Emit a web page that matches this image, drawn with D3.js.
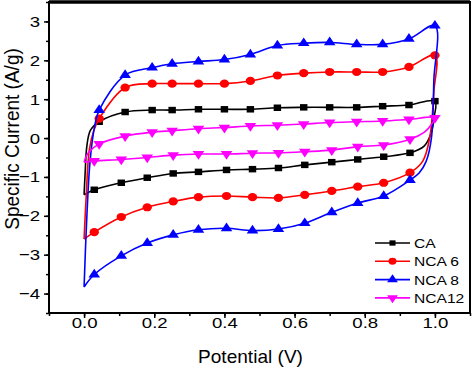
<!DOCTYPE html>
<html lang="en">
<head>
    <meta charset="UTF-8">
    <title>Specific Current vs Potential</title>
    <script src="https://d3js.org/d3.v7.min.js"></script>
    <style>
        body { margin: 0; background: #fff; }
        text { font-family: "Liberation Sans", Arial, sans-serif; fill: #000; }
    </style>
</head>
<body>
<svg id="chart" width="474" height="369"></svg>

<script>
    // potentials where the markers sit (anodic scan, then cathodic scan)
    const potUp = [0.043, 0.117, 0.194, 0.251, 0.326, 0.40, 0.474, 0.551, 0.626, 0.70, 0.777, 0.851, 0.926, 1.0];
    const potDown = [0.929, 0.854, 0.78, 0.706, 0.629, 0.554, 0.48, 0.406, 0.326, 0.254, 0.18, 0.106, 0.029];

    // specific current (A/g) at those potentials
    const caUp = [0.42, 0.67, 0.72, 0.72, 0.74, 0.74, 0.74, 0.78, 0.79, 0.79, 0.79, 0.82, 0.85, 0.95];
    const caDown = [-0.38, -0.48, -0.55, -0.62, -0.69, -0.77, -0.80, -0.82, -0.87, -0.91, -1.02, -1.15, -1.33];
    const nca6Up = [0.50, 1.30, 1.40, 1.40, 1.40, 1.40, 1.47, 1.61, 1.67, 1.70, 1.70, 1.70, 1.83, 2.13];
    const nca6Down = [-0.89, -1.15, -1.25, -1.36, -1.46, -1.54, -1.52, -1.49, -1.52, -1.63, -1.78, -2.03, -2.42];
    const nca8Up = [0.72, 1.62, 1.81, 1.91, 1.97, 2.02, 2.15, 2.38, 2.44, 2.46, 2.41, 2.41, 2.55, 2.89];
    const nca8Down = [-1.08, -1.49, -1.67, -1.91, -2.19, -2.34, -2.38, -2.32, -2.36, -2.49, -2.70, -3.03, -3.51];
    const nca12Up = [-0.15, 0.05, 0.15, 0.19, 0.24, 0.27, 0.31, 0.33, 0.36, 0.40, 0.42, 0.44, 0.48, 0.52];
    const nca12Down = [-0.03, -0.18, -0.22, -0.31, -0.35, -0.38, -0.39, -0.41, -0.41, -0.44, -0.50, -0.55, -0.59];

    // extra trace points without markers: switching edges at 0 V and 1 V
    const caStart = [[0, -1.46], [0.003, -0.9], [0.008, -0.2], [0.018, 0.2]];
    const caTurn = [[0.998, 0.55], [0.99, 0.15], [0.97, -0.2]];
    const nca6Start = [[0, -2.60], [0.006, -1.5], [0.015, -0.3], [0.028, 0.2]];
    const nca6Turn = [[0.997, 1.2], [0.985, 0.0], [0.965, -0.6]];
    const nca8Start = [[0, -3.83], [0.007, -2.2], [0.017, -0.6], [0.03, 0.3]];
    const nca8Turn = [[0.997, 1.5], [0.99, 0.0], [0.975, -0.6], [0.955, -0.9]];
    const nca12Start = [[0, -0.62], [0.012, -0.38]];
    const nca12Turn = [[0.99, 0.35], [0.97, 0.15]];

    const names = ["CA", "NCA 6", "NCA 8", "NCA12"];
    const colors = ["#000000", "#ff0000", "#0000ff", "#ff00ff"];

    const xTicks = [0.0, 0.2, 0.4, 0.6, 0.8, 1.0];
    const yTicks = [-4, -3, -2, -1, 0, 1, 2, 3];

    const series = [
        { up: caUp, down: caDown, start: caStart, turn: caTurn, shape: "square" },
        { up: nca6Up, down: nca6Down, start: nca6Start, turn: nca6Turn, shape: "circle" },
        { up: nca8Up, down: nca8Down, start: nca8Start, turn: nca8Turn, shape: "up" },
        { up: nca12Up, down: nca12Down, start: nca12Start, turn: nca12Turn, shape: "down" }
    ].map((s, i) => {
        const marks = potUp.map((p, j) => [p, s.up[j]]).concat(potDown.map((p, j) => [p, s.down[j]]));
        const trace = s.start.concat(potUp.map((p, j) => [p, s.up[j]]), s.turn,
            potDown.map((p, j) => [p, s.down[j]]), [s.start[0]]);
        return { name: names[i], color: colors[i], shape: s.shape, marks, trace };
    });

    const svg = d3.select("#chart");
    const margin = { top: 2, right: 4, bottom: 56, left: 49 };
    const width = +svg.attr("width");
    const height = +svg.attr("height");

    const x = d3.scaleLinear().domain([-0.1, 1.1]).range([margin.left, width - margin.right]);
    const y = d3.scaleLinear().domain([-4.5, 3.5]).range([height - margin.bottom, margin.top]);

    const stretch = "scale(1.2,1)";   // the source figure is a bit wider than tall

    // minor ticks
    svg.append("g")
        .attr("transform", `translate(0,${y.range()[0]})`)
        .call(d3.axisBottom(x).tickValues(d3.range(-0.1, 1.15, 0.1)).tickSize(3).tickFormat("").tickSizeOuter(0))
        .call(g => g.select(".domain").remove())
        .call(g => g.selectAll(".tick line").attr("stroke-width", 1.5));
    svg.append("g")
        .attr("transform", `translate(${x.range()[0]},0)`)
        .call(d3.axisLeft(y).tickValues(d3.range(-4.5, 3.6, 0.5)).tickSize(3).tickFormat("").tickSizeOuter(0))
        .call(g => g.select(".domain").remove())
        .call(g => g.selectAll(".tick line").attr("stroke-width", 1.5));

    // major ticks and labels
    svg.append("g")
        .attr("transform", `translate(0,${y.range()[0]})`)
        .call(d3.axisBottom(x).tickValues(xTicks).tickFormat(d3.format(".1f")).tickSize(5).tickPadding(-1).tickSizeOuter(0))
        .call(g => g.select(".domain").remove())
        .call(g => g.selectAll(".tick line").attr("stroke-width", 1.5))
        .call(g => g.selectAll(".tick text")
            .attr("font-size", "15.5px")
            .attr("font-family", "Liberation Sans, Arial, sans-serif")
            .attr("transform", stretch));
    svg.append("g")
        .attr("transform", `translate(${x.range()[0]},0)`)
        .call(d3.axisLeft(y).tickValues(yTicks).tickSize(5).tickPadding(2.5).tickSizeOuter(0))
        .call(g => g.select(".domain").remove())
        .call(g => g.selectAll(".tick line").attr("stroke-width", 1.5))
        .call(g => g.selectAll(".tick text")
            .attr("font-size", "15.5px")
            .attr("font-family", "Liberation Sans, Arial, sans-serif")
            .attr("transform", stretch));

    // frame
    const [x0, x1] = x.range();
    const [y0, y1] = y.range();
    svg.append("rect")
        .attr("x", x0).attr("y", y1)
        .attr("width", x1 - x0).attr("height", y0 - y1)
        .attr("fill", "none").attr("stroke", "#000").attr("stroke-width", 2);
    svg.append("line")
        .attr("x1", x0).attr("x2", x1).attr("y1", y1).attr("y2", y1)
        .attr("stroke", "#000").attr("stroke-width", 3.5);

    // curves
    const line = d3.line()
        .x(d => x(d[0]))
        .y(d => y(d[1]))
        .curve(d3.curveCatmullRom.alpha(0.5));

    const symbolFor = {
        square: d3.symbol().type(d3.symbolSquare).size(42),
        circle: d3.symbol().type(d3.symbolCircle).size(52),
        up: d3.symbol().type(d3.symbolTriangle).size(44),
        down: d3.symbol().type(d3.symbolTriangle).size(44)
    };
    const symbolTransform = (shape, px, py) =>
        `translate(${px},${py}) scale(1.15,1)` + (shape === "down" ? " rotate(180)" : "");

    series.forEach(s => {
        svg.append("path")
            .datum(s.trace)
            .attr("fill", "none")
            .attr("stroke", s.color)
            .attr("stroke-width", 1.6)
            .attr("stroke-linejoin", "round")
            .attr("d", line);

        svg.append("g").selectAll("path")
            .data(s.marks)
            .enter()
            .append("path")
            .attr("d", symbolFor[s.shape])
            .attr("transform", d => symbolTransform(s.shape, x(d[0]), y(d[1])))
            .attr("fill", s.color);
    });

    // legend
    const legend = svg.append("g").attr("transform", "translate(375,243)");
    series.forEach((s, i) => {
        const row = legend.append("g").attr("transform", `translate(0,${i * 18.3})`);
        row.append("line")
            .attr("x1", 0).attr("x2", 35).attr("y1", 0).attr("y2", 0)
            .attr("stroke", s.color).attr("stroke-width", 1.6);
        row.append("path")
            .attr("d", d3.symbol().type(s.shape === "square" ? d3.symbolSquare
                : s.shape === "circle" ? d3.symbolCircle : d3.symbolTriangle).size(s.shape === "square" ? 28 : 38))
            .attr("transform", symbolTransform(s.shape, 17.5, 0))
            .attr("fill", s.color);
        row.append("text")
            .attr("transform", "translate(39,5) scale(1.2,1)")
            .attr("font-size", "13px")
            .text(s.name);
    });

    // axis titles
    svg.append("text")
        .attr("transform", `translate(${(x0 + x1) / 2 - 9},${height - 6}) scale(1.06,1)`)
        .attr("text-anchor", "middle")
        .attr("font-size", "18px")
        .text("Potential (V)");

    svg.append("text")
        .attr("transform", `translate(19,139) rotate(-90) scale(1,1.04)`)
        .attr("text-anchor", "middle")
        .attr("font-size", "19px")
        .text("Specific Current (A/g)");
</script>
</body>
</html>
